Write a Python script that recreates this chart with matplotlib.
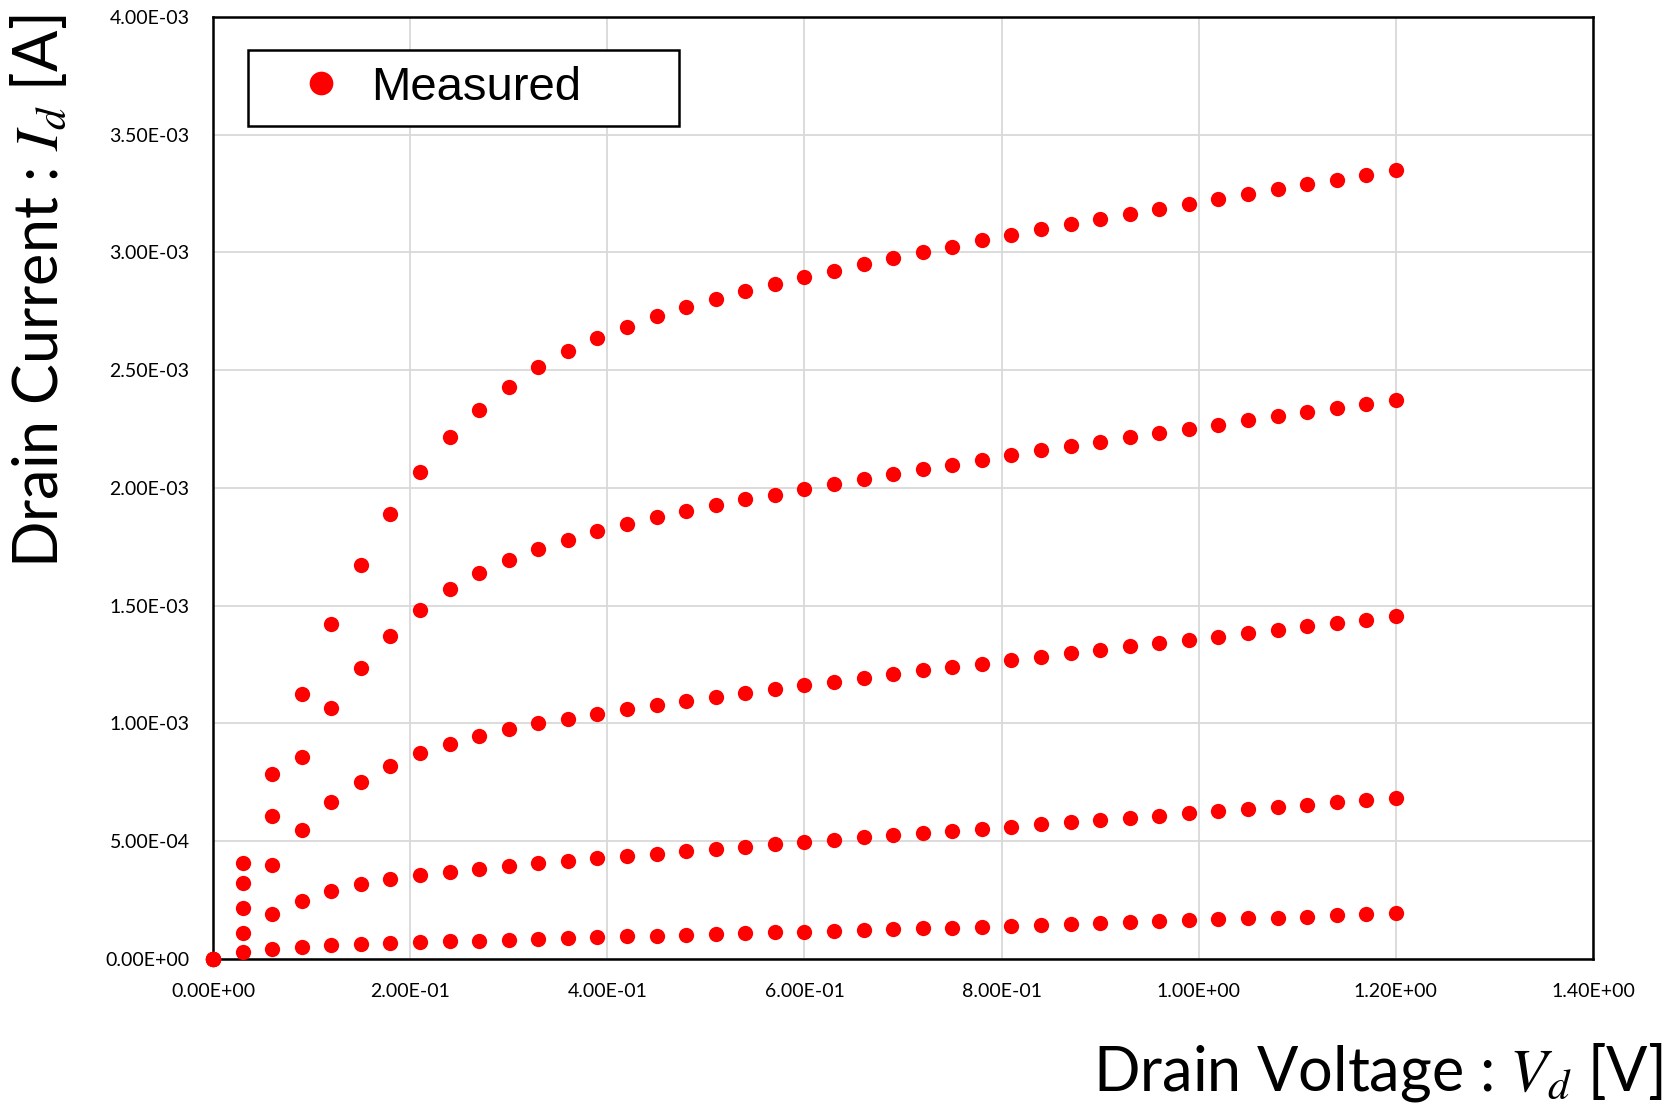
import matplotlib.pyplot as plt
from matplotlib.ticker import FuncFormatter, MultipleLocator

plt.rcParams['mathtext.fontset'] = 'stix'

# drain voltage sweep [V]
vd = [0.00, 0.03, 0.06, 0.09, 0.12, 0.15, 0.18, 0.21, 0.24, 0.27, 0.30, 0.33, 0.36,
      0.39, 0.42, 0.45, 0.48, 0.51, 0.54, 0.57, 0.60, 0.63, 0.66, 0.69, 0.72, 0.75,
      0.78, 0.81, 0.84, 0.87, 0.90, 0.93, 0.96, 0.99, 1.02, 1.05, 1.08, 1.11, 1.14,
      1.17, 1.20]

# drain current [mA], one list per gate voltage (top to bottom)
id_1 = [0, 0.409, 0.787, 1.125, 1.424, 1.675, 1.891, 2.067, 2.216, 2.333, 2.430, 2.512, 2.580,
        2.637, 2.685, 2.730, 2.768, 2.804, 2.835, 2.866, 2.895, 2.921, 2.951, 2.976, 3.000,
        3.025, 3.051, 3.073, 3.099, 3.120, 3.143, 3.164, 3.185, 3.206, 3.227, 3.247, 3.270,
        3.290, 3.309, 3.331, 3.349]
id_2 = [0, 0.321, 0.609, 0.857, 1.065, 1.237, 1.373, 1.482, 1.570, 1.638, 1.693, 1.740, 1.781,
        1.816, 1.847, 1.876, 1.903, 1.927, 1.952, 1.972, 1.996, 2.017, 2.038, 2.059, 2.081,
        2.099, 2.119, 2.140, 2.160, 2.178, 2.196, 2.216, 2.232, 2.251, 2.268, 2.287, 2.305,
        2.322, 2.341, 2.356, 2.372]
id_3 = [0, 0.218, 0.401, 0.549, 0.666, 0.753, 0.821, 0.873, 0.914, 0.946, 0.976, 1.000, 1.021,
        1.041, 1.061, 1.079, 1.096, 1.113, 1.131, 1.147, 1.162, 1.178, 1.194, 1.209, 1.225,
        1.239, 1.254, 1.270, 1.284, 1.299, 1.314, 1.328, 1.340, 1.355, 1.369, 1.384, 1.397,
        1.412, 1.427, 1.441, 1.455]
id_4 = [0, 0.109, 0.190, 0.247, 0.287, 0.317, 0.338, 0.356, 0.370, 0.381, 0.396, 0.406, 0.417,
        0.427, 0.439, 0.446, 0.458, 0.468, 0.477, 0.487, 0.496, 0.507, 0.517, 0.527, 0.535,
        0.545, 0.552, 0.562, 0.571, 0.581, 0.590, 0.599, 0.609, 0.619, 0.627, 0.637, 0.645,
        0.655, 0.665, 0.675, 0.682]
id_5 = [0, 0.029, 0.044, 0.052, 0.060, 0.063, 0.068, 0.071, 0.075, 0.078, 0.081, 0.084, 0.088,
        0.092, 0.096, 0.099, 0.102, 0.106, 0.109, 0.113, 0.116, 0.119, 0.123, 0.126, 0.130,
        0.133, 0.136, 0.140, 0.144, 0.148, 0.153, 0.157, 0.160, 0.164, 0.168, 0.172, 0.175,
        0.179, 0.185, 0.189, 0.193]

curves = [id_1, id_2, id_3, id_4, id_5]

fig = plt.figure(figsize=(16.71, 11.03), dpi=100)
ax = fig.add_axes([0.1275, 0.1306, 0.8258, 0.854])

for i, c in enumerate(curves):
    ax.plot(vd, [v * 1e-3 for v in c], 'o', color='#ff0000', markersize=11,
            markeredgewidth=0, clip_on=False, zorder=3,
            label='Measured' if i == 0 else None)

ax.set_xlim(0, 1.4)
ax.set_ylim(0, 4e-3)
ax.xaxis.set_major_locator(MultipleLocator(0.2))
ax.yaxis.set_major_locator(MultipleLocator(0.5e-3))
fmt = FuncFormatter(lambda v, p: '{:.2E}'.format(v))
ax.xaxis.set_major_formatter(fmt)
ax.yaxis.set_major_formatter(fmt)
ax.grid(True, color='#d9d9d9', linewidth=1.3)
ax.set_axisbelow(True)
ax.tick_params(length=0, labelsize=14)
ax.tick_params(axis='x', pad=17)
ax.tick_params(axis='y', pad=17)
for lab in ax.get_xticklabels() + ax.get_yticklabels():
    lab.set_fontfamily('Lato')
for s in ax.spines.values():
    s.set_color('black')
    s.set_linewidth(1.8)

leg = ax.legend(loc='upper left', bbox_to_anchor=(0.0255, 0.885, 0.3125, 0.08),
                mode='expand', frameon=True, fancybox=False, edgecolor='black',
                framealpha=1, borderpad=0.34, handlelength=2.42, handletextpad=-0.16,
                borderaxespad=0, markerscale=1.55,
                prop={'family': 'Liberation Sans', 'size': 34})
leg.get_frame().set_linewidth(1.8)

fig.text(0.995, 0.028, r'Drain Voltage : $V_d$ [V]', ha='right', va='center',
         fontsize=44, family='Lato')
fig.text(0.023, 0.987, r'Drain Current : $I_d$ [A]', ha='center', va='top',
         rotation=90, fontsize=44, family='Lato')

fig.savefig('out.png', dpi=100)
